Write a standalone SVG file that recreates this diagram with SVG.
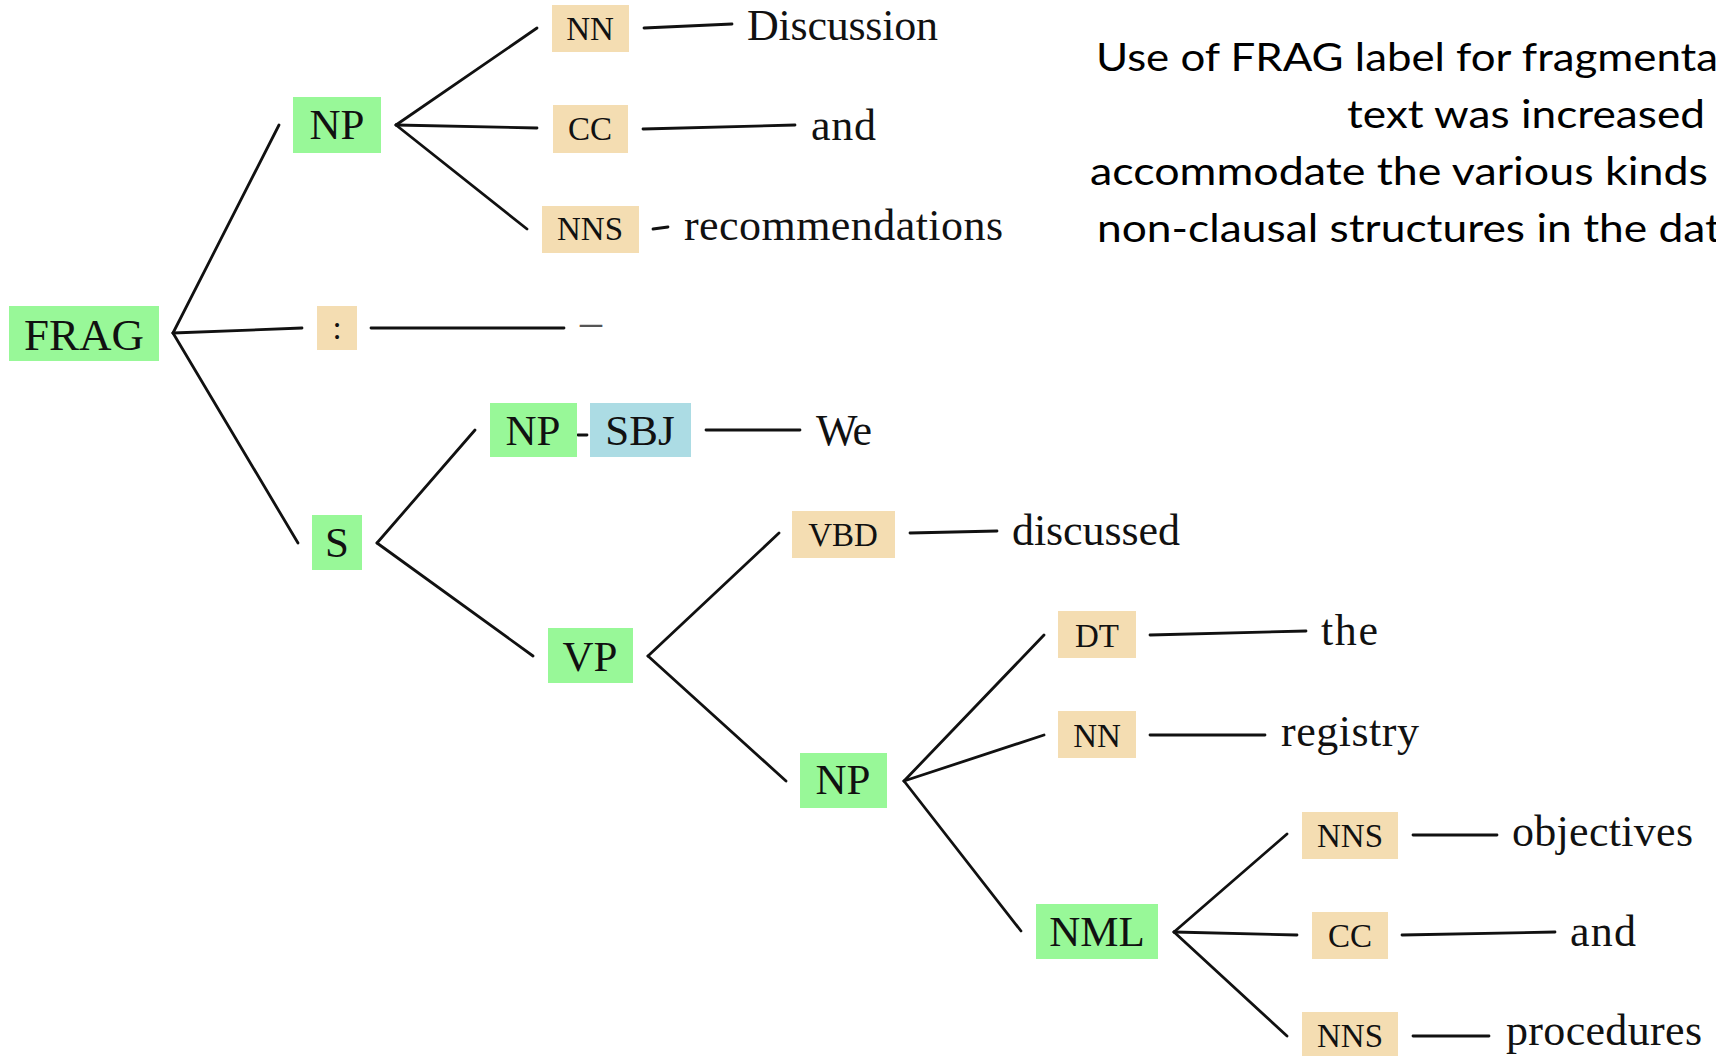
<svg xmlns="http://www.w3.org/2000/svg" width="1716" height="1056" viewBox="0 0 1716 1056">
  <style>
    .phrase { fill: #98F898; }
    .pos { fill: #F4DDB2; }
    .func { fill: #ACDCE4; }
    .lbl { font-family: "Liberation Serif", "Times New Roman", serif; fill: #111; text-anchor: middle; }
    .big { font-size: 43px; }
    .small { font-size: 33px; }
    .word { font-family: "Liberation Serif", "Times New Roman", serif; font-size: 44px; fill: #111; }
    .note { font-family: Lato, "Liberation Sans", sans-serif; font-size: 39px; fill: #000; }
    .edge { stroke: #111; stroke-width: 2.8; fill: none; stroke-linecap: round; }
  </style>
  <rect width="1716" height="1056" fill="#fff"/>

  <!-- tree branches and leaf links -->
  <g id="connectors">
    <!-- FRAG -->
    <line class="edge" x1="173" y1="333" x2="279" y2="125"/>
    <line class="edge" x1="173" y1="333" x2="302" y2="328"/>
    <line class="edge" x1="173" y1="333" x2="298" y2="543"/>
    <!-- NP (top) -->
    <line class="edge" x1="396" y1="125" x2="537" y2="28"/>
    <line class="edge" x1="396" y1="125" x2="537" y2="128"/>
    <line class="edge" x1="396" y1="125" x2="527" y2="229"/>
    <!-- leaves of NP (top) -->
    <line class="edge" x1="644" y1="28" x2="732" y2="24"/>
    <line class="edge" x1="643" y1="129" x2="795" y2="125"/>
    <line class="edge" x1="653" y1="229" x2="668" y2="227"/>
    <!-- colon leaf -->
    <line class="edge" x1="371" y1="328" x2="564" y2="328"/>
    <!-- S -->
    <line class="edge" x1="377" y1="543" x2="475" y2="430"/>
    <line class="edge" x1="377" y1="543" x2="533" y2="656"/>
    <line class="edge" x1="578" y1="435" x2="587" y2="435" stroke-width="3.5"/>
    <line class="edge" x1="706" y1="430" x2="800" y2="430"/>
    <!-- VP -->
    <line class="edge" x1="648" y1="656" x2="779" y2="533"/>
    <line class="edge" x1="648" y1="656" x2="786" y2="781"/>
    <line class="edge" x1="910" y1="533" x2="997" y2="531"/>
    <!-- NP (lower) -->
    <line class="edge" x1="904" y1="781" x2="1044" y2="635"/>
    <line class="edge" x1="904" y1="781" x2="1044" y2="735"/>
    <line class="edge" x1="904" y1="781" x2="1021" y2="931"/>
    <line class="edge" x1="1150" y1="635" x2="1306" y2="631"/>
    <line class="edge" x1="1150" y1="735" x2="1265" y2="735"/>
    <!-- NML -->
    <line class="edge" x1="1174" y1="932" x2="1287" y2="834"/>
    <line class="edge" x1="1174" y1="932" x2="1297" y2="935"/>
    <line class="edge" x1="1174" y1="932" x2="1287" y2="1036"/>
    <line class="edge" x1="1413" y1="835" x2="1497" y2="835"/>
    <line class="edge" x1="1402" y1="935" x2="1555" y2="932"/>
    <line class="edge" x1="1413" y1="1036" x2="1489" y2="1036"/>
  </g>

  <!-- phrase nodes -->
  <g id="node-frag"><rect class="phrase" x="9" y="306" width="150" height="55"/><text class="lbl" x="84" y="350" font-size="45">FRAG</text></g>
  <g id="node-np1"><rect class="phrase" x="293" y="97" width="88" height="56"/><text class="lbl big" x="337" y="139">NP</text></g>
  <g id="node-s"><rect class="phrase" x="312" y="515" width="50" height="55"/><text class="lbl big" x="337" y="557">S</text></g>
  <g id="node-np-sbj">
    <rect class="phrase" x="490" y="403" width="87" height="54"/><text class="lbl big" x="533" y="445">NP</text>
    <rect class="func" x="590" y="403" width="101" height="54"/><text class="lbl big" x="640" y="445">SBJ</text>
  </g>
  <g id="node-vp"><rect class="phrase" x="548" y="628" width="85" height="55"/><text class="lbl big" x="590" y="671">VP</text></g>
  <g id="node-np2"><rect class="phrase" x="800" y="753" width="87" height="55"/><text class="lbl big" x="843" y="794">NP</text></g>
  <g id="node-nml"><rect class="phrase" x="1036" y="904" width="122" height="55"/><text class="lbl big" x="1097" y="946">NML</text></g>

  <!-- part-of-speech nodes -->
  <g id="node-nn1"><rect class="pos" x="552" y="5" width="77" height="47"/><text class="lbl small" x="590" y="40">NN</text></g>
  <g id="node-cc1"><rect class="pos" x="553" y="105" width="75" height="48"/><text class="lbl small" x="590" y="140">CC</text></g>
  <g id="node-nns1"><rect class="pos" x="542" y="206" width="97" height="47"/><text class="lbl small" x="590" y="240">NNS</text></g>
  <g id="node-colon"><rect class="pos" x="317" y="306" width="40" height="44"/><text class="lbl small" x="337" y="339">:</text></g>
  <g id="node-vbd"><rect class="pos" x="792" y="511" width="103" height="47"/><text class="lbl small" x="843" y="546">VBD</text></g>
  <g id="node-dt"><rect class="pos" x="1058" y="611" width="78" height="47"/><text class="lbl small" x="1097" y="647">DT</text></g>
  <g id="node-nn2"><rect class="pos" x="1058" y="711" width="78" height="47"/><text class="lbl small" x="1097" y="747">NN</text></g>
  <g id="node-nns2"><rect class="pos" x="1302" y="812" width="96" height="47"/><text class="lbl small" x="1350" y="847">NNS</text></g>
  <g id="node-cc2"><rect class="pos" x="1312" y="912" width="76" height="47"/><text class="lbl small" x="1350" y="947">CC</text></g>
  <g id="node-nns3"><rect class="pos" x="1302" y="1012" width="96" height="47"/><text class="lbl small" x="1350" y="1047">NNS</text></g>

  <!-- words -->
  <g id="words">
    <text class="word" x="747" y="40" textLength="191">Discussion</text>
    <text class="word" x="811" y="140" textLength="65">and</text>
    <text class="word" x="684" y="240" textLength="319">recommendations</text>
    <text class="word" x="580" y="336" style="fill:#555">–</text>
    <text class="word" x="816" y="445" textLength="56">We</text>
    <text class="word" x="1012" y="545" textLength="168">discussed</text>
    <text class="word" x="1321" y="645" textLength="57">the</text>
    <text class="word" x="1281" y="746" textLength="138">registry</text>
    <text class="word" x="1512" y="846" textLength="181">objectives</text>
    <text class="word" x="1570" y="946" textLength="66">and</text>
    <text class="word" x="1506" y="1045" textLength="196">procedures</text>
  </g>

  <!-- side note, running off the right edge -->
  <g id="note">
    <text class="note" x="1096" y="71" textLength="622" lengthAdjust="spacingAndGlyphs">Use of FRAG label for fragmenta</text>
    <text class="note" x="1347" y="128" textLength="358" lengthAdjust="spacingAndGlyphs">text was increased</text>
    <text class="note" x="1090" y="185" textLength="618" lengthAdjust="spacingAndGlyphs">accommodate the various kinds</text>
    <text class="note" x="1097" y="242" textLength="624" lengthAdjust="spacingAndGlyphs">non-clausal structures in the dat</text>
  </g>
</svg>
